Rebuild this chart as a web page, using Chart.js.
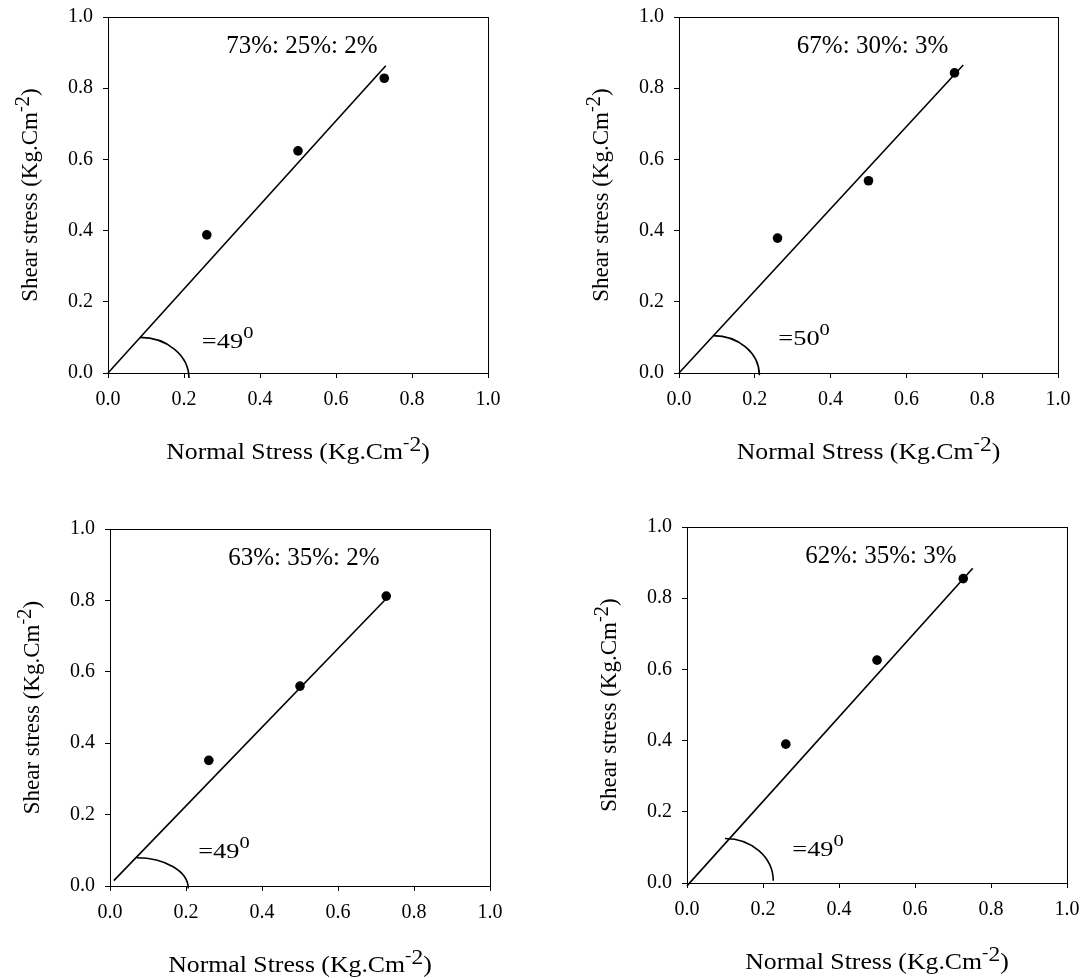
<!DOCTYPE html>
<html>
<head>
<meta charset="utf-8">
<script src="https://cdn.jsdelivr.net/npm/chart.js@4.4.1/dist/chart.umd.min.js"></script>
<style>
  body { margin: 0; background: #fff; }
  #wrap { position: relative; width: 1084px; height: 978px; }
  #wrap canvas { position: absolute; }
</style>
</head>
<body>
<div id="wrap">
  <canvas id="p1" width="542" height="489" style="left:0;top:0"></canvas>
  <canvas id="p2" width="542" height="489" style="left:542px;top:0"></canvas>
  <canvas id="p3" width="542" height="489" style="left:0;top:489px"></canvas>
  <canvas id="p4" width="542" height="489" style="left:542px;top:489px"></canvas>
</div>
<script>
// normal stress applied in each shear box test (Kg.Cm-2)
const normalStress = [0.26, 0.50, 0.727];

// measured shear stress for the four mixes
const shearA = [0.388, 0.624, 0.828];
const shearB = [0.379, 0.540, 0.843];
const shearC = [0.352, 0.560, 0.812];
const shearD = [0.390, 0.626, 0.855];

// failure envelope end points
const fitXA = [0, 0.731], fitYA = [0, 0.863];
const fitXB = [0, 0.750], fitYB = [0, 0.865];
const fitXC = [0.01, 0.728], fitYC = [0.015, 0.806];
const fitXD = [0, 0.752], fitYD = [-0.008, 0.884];

const mixLabels = ['73%: 25%: 2%', '67%: 30%: 3%', '63%: 35%: 2%', '62%: 35%: 3%'];
const frictionAngles = [49, 50, 49, 49];

const tickValues = [0, 0.2, 0.4, 0.6, 0.8, 1.0];

const SERIF = "'Liberation Serif', 'Times New Roman', serif";
Chart.defaults.font.family = SERIF;
Chart.defaults.color = '#000';
Chart.defaults.animation = false;

// draws a run of text pieces [text, size, rise], optionally rotated / stretched
function richText(ctx, parts, x, y, opts) {
  opts = opts || {};
  const widths = parts.map(p => {
    ctx.font = p[1] + 'px ' + SERIF;
    return ctx.measureText(p[0]).width;
  });
  const total = widths.reduce((a, b) => a + b, 0);
  ctx.save();
  ctx.translate(x, y);
  if (opts.rotate) ctx.rotate(opts.rotate);
  ctx.scale(opts.sx || 1, 1);
  ctx.textAlign = 'left';
  ctx.textBaseline = 'alphabetic';
  ctx.fillStyle = '#000';
  let cx = opts.align === 'center' ? -total / 2 : 0;
  parts.forEach((p, i) => {
    ctx.font = p[1] + 'px ' + SERIF;
    ctx.fillText(p[0], cx, -(p[2] || 0));
    cx += widths[i];
  });
  ctx.restore();
}

function unitTitle(main) {
  return [[main + ' (Kg.Cm', 23], ['-', 17, 11], ['2', 21, 8], [')', 23]];
}

function makePanel(id, area, shear, fitX, fitY, idx, arc) {
  const canvas = document.getElementById(id);
  const W = canvas.width, H = canvas.height;

  const decor = {
    id: 'decor' + id,
    afterDraw(chart) {
      const { ctx, chartArea: a, scales: { x, y } } = chart;
      ctx.save();
      ctx.strokeStyle = '#000';
      ctx.lineWidth = 1;
      ctx.strokeRect(Math.round(a.left) + 0.5, Math.round(a.top) + 0.5,
        Math.round(a.right - a.left), Math.round(a.bottom - a.top));

      // angle arc from the envelope down to the axis
      const cx = x.getPixelForValue(arc[0]);
      const cy = y.getPixelForValue(arc[3]);
      const rx = x.getPixelForValue(arc[2]) - cx;
      const ry = cy - y.getPixelForValue(arc[1]);
      ctx.lineWidth = 1.6;
      ctx.beginPath();
      ctx.ellipse(cx, cy, rx, ry, 0, -Math.PI / 2, 0);
      ctx.stroke();
      ctx.restore();

      richText(ctx, [[mixLabels[idx], 25]],
        x.getPixelForValue(0.311), y.getPixelForValue(0.90));
      richText(ctx, [['=' + frictionAngles[idx], 22], ['0', 17, 10]],
        x.getPixelForValue(arc[4]), y.getPixelForValue(arc[5]), { sx: 1.2 });

      richText(ctx, unitTitle('Normal Stress'),
        (a.left + a.right) / 2, a.bottom + 86, { align: 'center', sx: 1.12 });
      richText(ctx, unitTitle('Shear stress'),
        a.left - 71, (a.top + a.bottom) / 2, { align: 'center', rotate: -Math.PI / 2 });
    }
  };

  const axisCommon = {
    type: 'linear',
    min: 0,
    max: 1,
    afterBuildTicks: s => { s.ticks = tickValues.map(v => ({ value: v })); },
    ticks: {
      font: { size: 20 },
      color: '#000',
      padding: 10,
      callback: v => v.toFixed(1)
    },
    grid: { drawOnChartArea: false, drawTicks: true, tickLength: 5, color: '#000' },
    border: { display: false }
  };

  return new Chart(canvas, {
    data: {
      datasets: [
        {
          type: 'scatter',
          data: normalStress.map((v, i) => ({ x: v, y: shear[i] })),
          backgroundColor: '#000',
          borderWidth: 0,
          pointRadius: 4.8,
          pointHoverRadius: 4.8
        },
        {
          type: 'line',
          data: fitX.map((v, i) => ({ x: v, y: fitY[i] })),
          borderColor: '#000',
          borderWidth: 1.6,
          pointRadius: 0,
          clip: false
        }
      ]
    },
    options: {
      responsive: false,
      animation: false,
      layout: { padding: { left: 0, top: area[2], right: W - area[1], bottom: 0 } },
      plugins: { legend: { display: false }, tooltip: { enabled: false } },
      scales: {
        x: Object.assign({}, axisCommon, {
          afterFit: s => { s.height = H - area[3]; s.paddingLeft = 0; s.paddingRight = 0; }
        }),
        y: Object.assign({}, axisCommon, {
          afterFit: s => { s.width = area[0]; s.paddingTop = 0; s.paddingBottom = 0; }
        })
      }
    },
    plugins: [decor]
  });
}

// plot box [left, right, top, bottom] in canvas pixels;
// arc [topX, topY, endX, endY] plus angle label anchor [x, y], in data units
makePanel('p1', [108, 488, 17, 373], shearA, fitXA, fitYA, 0,
  [0.084, 0.100, 0.213, -0.014, 0.247, 0.070]);
makePanel('p2', [137, 516, 17, 373], shearB, fitXB, fitYB, 1,
  [0.090, 0.105, 0.212, -0.006, 0.262, 0.079]);
makePanel('p3', [110, 490, 40, 397], shearC, fitXC, fitYC, 2,
  [0.070, 0.079, 0.206, -0.007, 0.232, 0.079]);
makePanel('p4', [145, 525, 38, 394], shearD, fitXD, fitYD, 3,
  [0.100, 0.125, 0.227, 0.006, 0.277, 0.076]);
</script>
</body>
</html>
